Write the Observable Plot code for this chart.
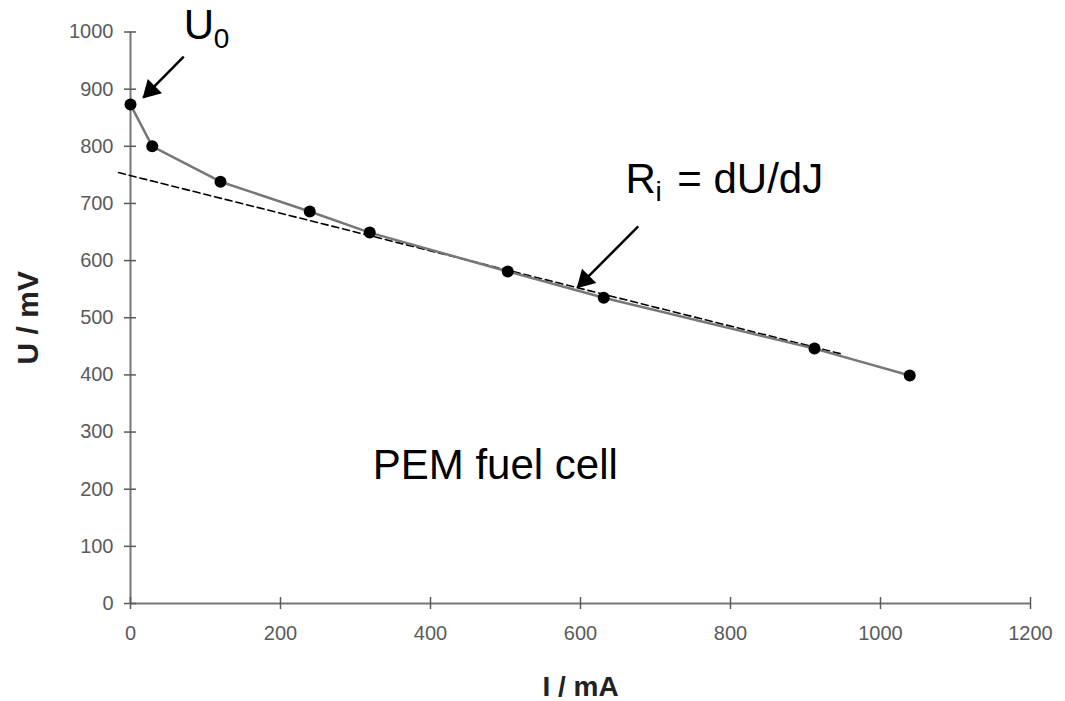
<!DOCTYPE html>
<html>
<head>
<meta charset="utf-8">
<script src="https://cdn.jsdelivr.net/npm/d3@7"></script>
<script src="https://cdn.jsdelivr.net/npm/@observablehq/plot@0.6"></script>
<style>
  html, body { margin: 0; padding: 0; background: #fff; }
  #chart { width: 1065px; height: 701px; }
</style>
</head>
<body>
<div id="chart"></div>
<script>
// Measured points (current in mA, voltage in mV)
const currents = [0, 29, 120, 239, 319, 503, 631, 912, 1039];
const voltages = [873, 800, 738, 686, 649, 581, 535, 446, 399];

// Tangent (internal resistance) line end points
const fitCurrents = [-16, 950];
const fitVoltages = [754, 436];

// Axis ticks
const xTicks = [0, 200, 400, 600, 800, 1000, 1200];
const yTicks = [0, 100, 200, 300, 400, 500, 600, 700, 800, 900, 1000];

// Axis titles
const xTitle = "I / mA";
const yTitle = "U / mV";

// Annotation texts (anchor positions in data units)
const bigLabels = ["U", "R", "= dU/dJ", "PEM fuel cell"];
const bigLabelI = [71, 660, 729, 323];
const bigLabelU = [1011, 741, 741, 242];
const subLabels = ["0", "i"];
const subLabelI = [111, 700];
const subLabelU = [987, 720];

// Annotation arrows
const arrowFromI = [71, 677];
const arrowFromU = [957, 660];
const arrowToI = [17, 596];
const arrowToU = [885, 553];

const points = currents.map((c, i) => ({I: c, U: voltages[i]}));
const fit = fitCurrents.map((c, i) => ({I: c, U: fitVoltages[i]}));
const bigs = bigLabels.map((t, i) => ({t, I: bigLabelI[i], U: bigLabelU[i]}));
const subs = subLabels.map((t, i) => ({t, I: subLabelI[i], U: subLabelU[i]}));
const arrows = arrowFromI.map((a, i) => ({x1: a, y1: arrowFromU[i], x2: arrowToI[i], y2: arrowToU[i]}));

const font = "'Liberation Sans', Arial, sans-serif";
const axisColor = "#5a5a5a";

const chart = Plot.plot({
  width: 1065,
  height: 701,
  marginLeft: 130,
  marginRight: 35,
  marginTop: 31.5,
  marginBottom: 98,
  style: {fontFamily: font, background: "#fff", overflow: "visible"},
  x: {domain: [0, 1200]},
  y: {domain: [0, 1000]},
  marks: [
    // axis lines
    Plot.ruleX([0], {stroke: "#777", strokeWidth: 2}),
    Plot.ruleY([0], {stroke: "#777", strokeWidth: 2}),
    // outward ticks + labels
    Plot.axisX({ticks: xTicks, tickFormat: d => String(d), tickSize: 6, tickPadding: 16, fontSize: 20, color: axisColor, label: null, strokeWidth: 1.5}),
    Plot.axisY({ticks: yTicks, tickFormat: d => String(d), tickSize: 6, tickPadding: 11, fontSize: 20, color: axisColor, label: null, strokeWidth: 1.5}),
    // inward part of the crossing ticks
    Plot.axisX({ticks: xTicks, tickSize: 6, dy: -6, tickFormat: () => "", color: axisColor, label: null, strokeWidth: 1.5}),
    Plot.axisY({ticks: yTicks, tickSize: 6, dx: 6, tickFormat: () => "", color: axisColor, label: null, strokeWidth: 1.5}),
    // axis titles
    Plot.text([xTitle], {frameAnchor: "bottom", dy: 84, text: d => d, fontSize: 28, fontWeight: "bold", fill: "#222", textAnchor: "middle", lineAnchor: "middle"}),
    Plot.text([yTitle], {frameAnchor: "left", dx: -102, rotate: -90, text: d => d, fontSize: 30, fontWeight: "bold", fill: "#222", textAnchor: "middle", lineAnchor: "middle"}),
    // dashed tangent
    Plot.line(fit, {x: "I", y: "U", stroke: "#000", strokeWidth: 1.6, strokeDasharray: "7,4"}),
    // measured curve
    Plot.line(points, {x: "I", y: "U", stroke: "#777", strokeWidth: 2.5}),
    Plot.dot(points, {x: "I", y: "U", r: 6, fill: "#000"}),
    // annotation arrows: shaft + filled head
    Plot.link(arrows, {x1: "x1", y1: "y1", x2: "x2", y2: "y2", stroke: "#000", strokeWidth: 2.5}),
    Plot.dot(arrows, {x: "x2", y: "y2", dx: 7.5, dy: -7.5, symbol: "triangle", rotate: 225, r: 7.5, fill: "#000", stroke: "none"}),
    // annotation texts
    Plot.text(bigs, {x: "I", y: "U", text: "t", fontSize: 42, textAnchor: "start", lineAnchor: "middle", fill: "#000"}),
    Plot.text(subs, {x: "I", y: "U", text: "t", fontSize: 28, textAnchor: "start", lineAnchor: "middle", fill: "#000"})
  ]
});
document.getElementById("chart").appendChild(chart);
</script>
</body>
</html>
